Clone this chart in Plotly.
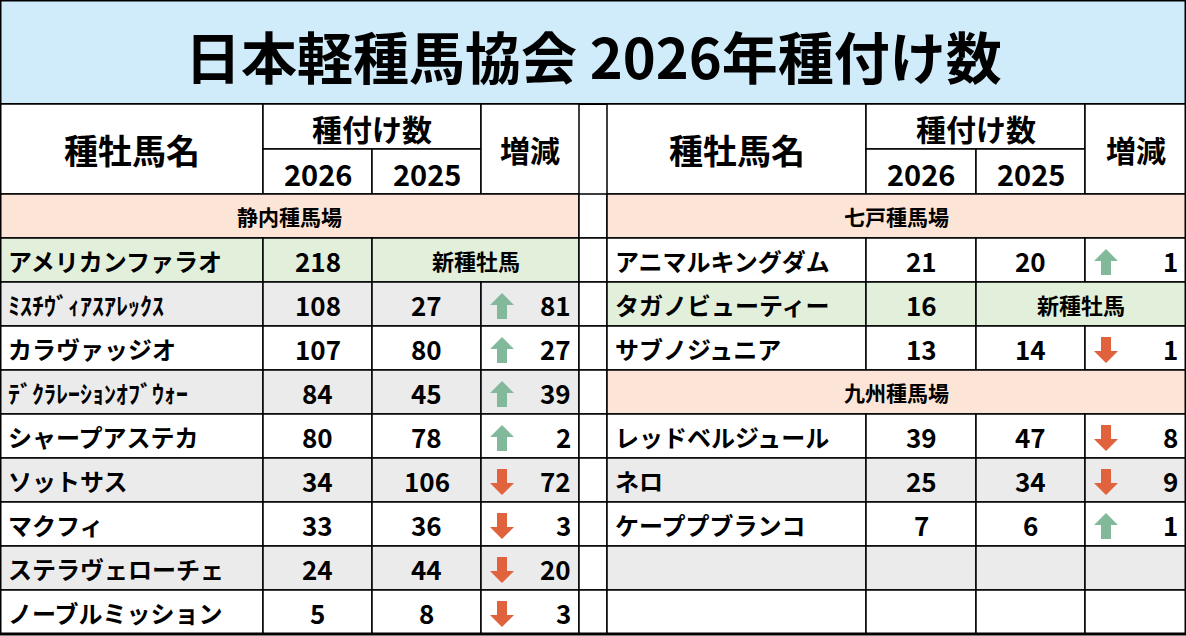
import plotly.graph_objects as go

TITLE = "日本軽種馬協会 2026年種付け数"

left_section = "静内種馬場"
left_names = ["アメリカンファラオ", "ﾐｽﾁｳﾞｨｱｽｱﾚｯｸｽ", "カラヴァッジオ", "ﾃﾞｸﾗﾚｰｼｮﾝｵﾌﾞｳｫｰ",
              "シャープアステカ", "ソットサス", "マクフィ", "ステラヴェローチェ", "ノーブルミッション"]
left_2026 = [218, 108, 107, 84, 80, 34, 33, 24, 5]
left_2025 = [None, 27, 80, 45, 78, 106, 36, 44, 8]

right_sections = ["七戸種馬場", "九州種馬場"]
right_names = [["アニマルキングダム", "タガノビューティー", "サブノジュニア"],
               ["レッドベルジュール", "ネロ", "ケーププブランコ"]]
right_2026 = [[21, 16, 13], [39, 25, 7]]
right_2025 = [[20, None, 14], [47, 34, 6]]

FONT = "Noto Sans CJK JP"
GRAY, WHITE, GREEN, PEACH = "#EBEBEB", "#FFFFFF", "#E2EFDA", "#FCE4D6"
UP, DOWN = "#82B99B", "#E0633E"

fig = go.Figure()
shapes, annos = [], []


def rect(x0, x1, y0, y1, fill, w=1.5):
    shapes.append(dict(type="rect", x0=x0, x1=x1, y0=y0, y1=y1, fillcolor=fill,
                       line=dict(color="black", width=w), layer="below"))


def text(x, y, s, size, anchor="center"):
    annos.append(dict(x=x, y=y, text=s, showarrow=False, xanchor=anchor, yanchor="middle",
                      font=dict(family=FONT, size=size, color="black", weight="bold")))


def arrow(cx, cy, up):
    s = -1 if up else 1
    pts = [(cx - 5, cy - s * 13), (cx + 5, cy - s * 13), (cx + 5, cy + s * 1), (cx + 12, cy + s * 1),
           (cx, cy + s * 13), (cx - 12, cy + s * 1), (cx - 5, cy + s * 1)]
    path = "M " + " L ".join(f"{x},{y}" for x, y in pts) + " Z"
    shapes.append(dict(type="path", path=path, fillcolor=UP if up else DOWN, line=dict(width=0)))


rect(0, 1186, 0, 104, "#D0EBF9", 2)
text(593, 54, TITLE, 56)

H0, H1, H2, RH = 104, 149, 194, 44


def header(cols):
    a, b, c, d, e = cols
    rect(a, b, H0, H2, WHITE); text((a + b) / 2, (H0 + H2) / 2, "種牡馬名", 34)
    rect(b, d, H0, H1, WHITE); text((b + d) / 2, (H0 + H1) / 2 + 1, "種付け数", 30)
    rect(b, c, H1, H2, WHITE); text((b + c) / 2, (H1 + H2) / 2 + 1, "2026", 29)
    rect(c, d, H1, H2, WHITE); text((c + d) / 2, (H1 + H2) / 2 + 1, "2025", 29)
    rect(d, e, H0, H2, WHITE); text((d + e) / 2, (H0 + H2) / 2, "増減", 30)


def horse_row(cols, y0, name, v26, v25, fill):
    a, b, c, d, e = cols
    y1, cy = y0 + RH, y0 + RH / 2
    if v25 is None:
        rect(a, b, y0, y1, GREEN); rect(b, c, y0, y1, GREEN); rect(c, e, y0, y1, GREEN)
        text(a + 6, cy, name, 24, "left"); text((b + c) / 2, cy, str(v26), 26)
        text((c + e) / 2, cy, "新種牡馬", 22)
        return
    for x0, x1 in [(a, b), (b, c), (c, d), (d, e)]:
        rect(x0, x1, y0, y1, fill)
    if name is None:
        return
    text(a + 6, cy, name, 24, "left")
    text((b + c) / 2, cy, str(v26), 26)
    text((c + d) / 2, cy, str(v25), 26)
    diff = v26 - v25
    arrow(d + 21, cy + 2, diff > 0)
    text(e - 6, cy, str(abs(diff)), 26, "right")


def section(cols, y0, label):
    rect(cols[0], cols[-1], y0, y0 + RH, PEACH)
    text((cols[0] + cols[-1]) / 2, y0 + RH / 2, label, 21)


L = [0, 263, 372, 481, 579]
R = [607, 866, 976, 1085, 1186]
header(L); header(R)

# left table
y = H2
section(L, y, left_section); y += RH
for i, (n, a, b) in enumerate(zip(left_names, left_2026, left_2025)):
    horse_row(L, y, n, a, b, GRAY if i % 2 else WHITE); y += RH

# gap column
y = H2
for _ in range(10):
    rect(579, 607, y, y + RH, WHITE); y += RH

# right table
y = H2
for sec, names, v26s, v25s in zip(right_sections, right_names, right_2026, right_2025):
    section(R, y, sec); y += RH
    for i, (n, a, b) in enumerate(zip(names, v26s, v25s)):
        horse_row(R, y, n, a, b, GRAY if i % 2 else WHITE); y += RH
for i in range(2):
    horse_row(R, y, None, 0, 0, GRAY if i % 2 == 0 else WHITE); y += RH

rect(0, 1186, 0, 634, "rgba(0,0,0,0)", 3)

fig.update_layout(
    width=1186, height=636, margin=dict(l=0, r=0, t=0, b=0),
    paper_bgcolor="white", plot_bgcolor="white",
    xaxis=dict(range=[0, 1186], visible=False, fixedrange=True),
    yaxis=dict(range=[636, 0], visible=False, fixedrange=True),
    shapes=shapes, annotations=annos, showlegend=False,
)
fig.write_html("out.html", config={"displayModeBar": False},
               post_script="document.body.style.margin='0';document.body.style.overflow='hidden';")
